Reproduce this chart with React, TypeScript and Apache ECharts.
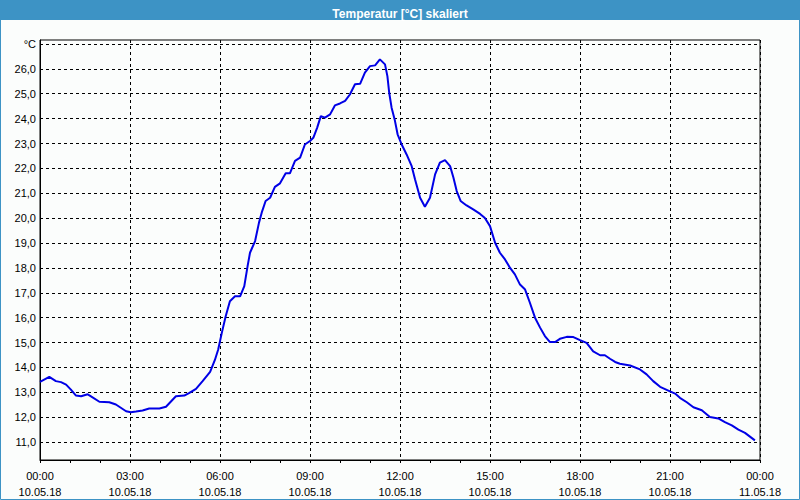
import React, { useEffect, useRef } from "react";
import * as echarts from "echarts";

const hours = [
  0.0, 0.31, 0.53, 0.7, 0.87, 1.03, 1.2, 1.37, 1.59, 1.7, 1.98, 2.31, 2.53, 2.87, 3.03, 3.2, 3.42, 3.64, 3.98,
  4.2, 4.53, 4.81, 4.98, 5.2, 5.42, 5.67, 5.83, 5.94, 6.06, 6.19, 6.33, 6.5, 6.67, 6.81, 6.92, 7.0, 7.17, 7.3,
  7.39, 7.52, 7.67, 7.83, 8.0, 8.19, 8.33, 8.5, 8.67, 8.83, 9.0, 9.11, 9.24, 9.36, 9.5, 9.67, 9.83, 10.0, 10.17,
  10.33, 10.5, 10.67, 10.83, 11.0, 11.17, 11.33, 11.5, 11.58, 11.64, 11.72, 11.83, 11.92, 12.06, 12.22, 12.39,
  12.5, 12.67, 12.83, 13.0, 13.17, 13.33, 13.5, 13.67, 13.78, 13.89, 14.02, 14.22, 14.44, 14.67, 14.83, 15.0,
  15.17, 15.33, 15.5, 15.67, 15.83, 16.0, 16.17, 16.33, 16.5, 16.67, 16.83, 17.0, 17.17, 17.33, 17.56, 17.78,
  18.0, 18.22, 18.44, 18.67, 18.83, 19.0, 19.17, 19.33, 19.67, 20.0, 20.22, 20.44, 20.67, 21.0, 21.17, 21.33,
  21.56, 21.78, 22.06, 22.33, 22.61, 22.83, 23.06, 23.28, 23.5, 23.72, 23.83,
];

const temperatures = [
  13.42, 13.62, 13.45, 13.41, 13.31, 13.11, 12.87, 12.84, 12.92, 12.84, 12.62, 12.6, 12.51, 12.24, 12.2, 12.23,
  12.27, 12.35, 12.35, 12.42, 12.84, 12.87, 12.98, 13.14, 13.45, 13.82, 14.3, 14.72, 15.39, 16.06, 16.66, 16.86,
  16.86, 17.27, 18.07, 18.61, 19.08, 19.82, 20.22, 20.69, 20.82, 21.26, 21.4, 21.8, 21.8, 22.3, 22.43, 22.96,
  23.1, 23.23, 23.64, 24.1, 24.04, 24.17, 24.53, 24.61, 24.71, 24.97, 25.38, 25.4, 25.85, 26.11, 26.14, 26.38,
  26.18, 25.71, 25.04, 24.44, 23.92, 23.37, 22.95, 22.56, 22.09, 21.56, 20.82, 20.46, 20.82, 21.76, 22.23, 22.33,
  22.09, 21.63, 21.09, 20.69, 20.51, 20.35, 20.17, 20.01, 19.68, 19.01, 18.61, 18.34, 18.0, 17.74, 17.33, 17.13,
  16.6, 16.0, 15.6, 15.26, 15.02, 15.02, 15.15, 15.23, 15.22, 15.1, 14.99, 14.65, 14.49, 14.49, 14.35, 14.22,
  14.15, 14.08, 13.92, 13.72, 13.45, 13.22, 13.04, 12.95, 12.78, 12.6, 12.4, 12.28, 12.01, 11.95, 11.8, 11.67,
  11.5, 11.37, 11.17, 11.07,
];

const yTickValues = [11, 12, 13, 14, 15, 16, 17, 18, 19, 20, 21, 22, 23, 24, 25, 26, 27];
const yUnitLabel = "°C";
const xTickTimes = ["00:00", "03:00", "06:00", "09:00", "12:00", "15:00", "18:00", "21:00", "00:00"];
const xTickDates = ["10.05.18", "10.05.18", "10.05.18", "10.05.18", "10.05.18", "10.05.18", "10.05.18", "10.05.18", "11.05.18"];
const chartTitle = "Temperatur [°C] skaliert";

const FONT = "'Liberation Sans', Arial, sans-serif";

export default function App() {
  const ref = useRef<HTMLDivElement>(null);

  useEffect(() => {
    if (!ref.current) return;
    const chart = echarts.init(ref.current, null, { renderer: "svg" });
    const data = hours.map((h, i) => [h, temperatures[i]]);
    chart.setOption({
      animation: false,
      backgroundColor: "#fbfdfc",
      title: {
        text: chartTitle,
        left: "center",
        top: 3,
        textStyle: { color: "#ffffff", fontWeight: "bold", fontSize: 12, fontFamily: FONT },
        z: 10,
      },
      graphic: [
        {
          type: "rect",
          z: 1,
          shape: { x: 0, y: 0, width: 800, height: 20 },
          style: { fill: "#3d93c5" },
          silent: true,
        },
        {
          type: "rect",
          z: 1,
          shape: { x: 0.5, y: 0.5, width: 799, height: 499 },
          style: { fill: "none", stroke: "#3d93c5", lineWidth: 1 },
          silent: true,
        },
      ],
      grid: {
        left: 40,
        right: 40,
        top: 40,
        bottom: 40,
        show: true,
        borderColor: "#000",
        borderWidth: 1,
        backgroundColor: "transparent",
      },
      xAxis: {
        type: "value",
        min: 0,
        max: 24,
        interval: 3,
        axisLine: { show: true, lineStyle: { color: "#000", width: 1 } },
        axisTick: { show: true, length: 3, lineStyle: { color: "#000" } },
        minorTick: { show: true, splitNumber: 3, length: 3, lineStyle: { color: "#000" } },
        splitLine: { show: true, lineStyle: { color: "#000", type: [3, 3], width: 1 } },
        axisLabel: {
          margin: 8,
          color: "#000",
          fontSize: 11,
          fontFamily: FONT,
          lineHeight: 16,
          formatter: (v: number) => {
            const i = Math.round(v / 3);
            return `${xTickTimes[i]}\n${xTickDates[i]}`;
          },
        },
      },
      yAxis: {
        type: "value",
        min: 10.28,
        max: 27.16,
        axisLine: { show: true, lineStyle: { color: "#000", width: 1 } },
        axisTick: { show: false, customValues: yTickValues },
        splitLine: { show: true, lineStyle: { color: "#000", type: [3, 3], width: 1 } },
        axisLabel: {
          customValues: yTickValues,
          margin: 4,
          color: "#000",
          fontSize: 11,
          fontFamily: FONT,
          formatter: (v: number) => (Math.round(v) === 27 ? yUnitLabel : v.toFixed(1).replace(".", ",")),
        },
      },
      series: [
        {
          type: "line",
          data,
          showSymbol: false,
          lineStyle: { color: "#0000e6", width: 2 },
          itemStyle: { color: "#0000e6" },
          z: 5,
        },
      ],
    });
    return () => chart.dispose();
  }, []);

  return <div ref={ref} style={{ position: "fixed", left: 0, top: 0, width: 800, height: 500 }} />;
}
